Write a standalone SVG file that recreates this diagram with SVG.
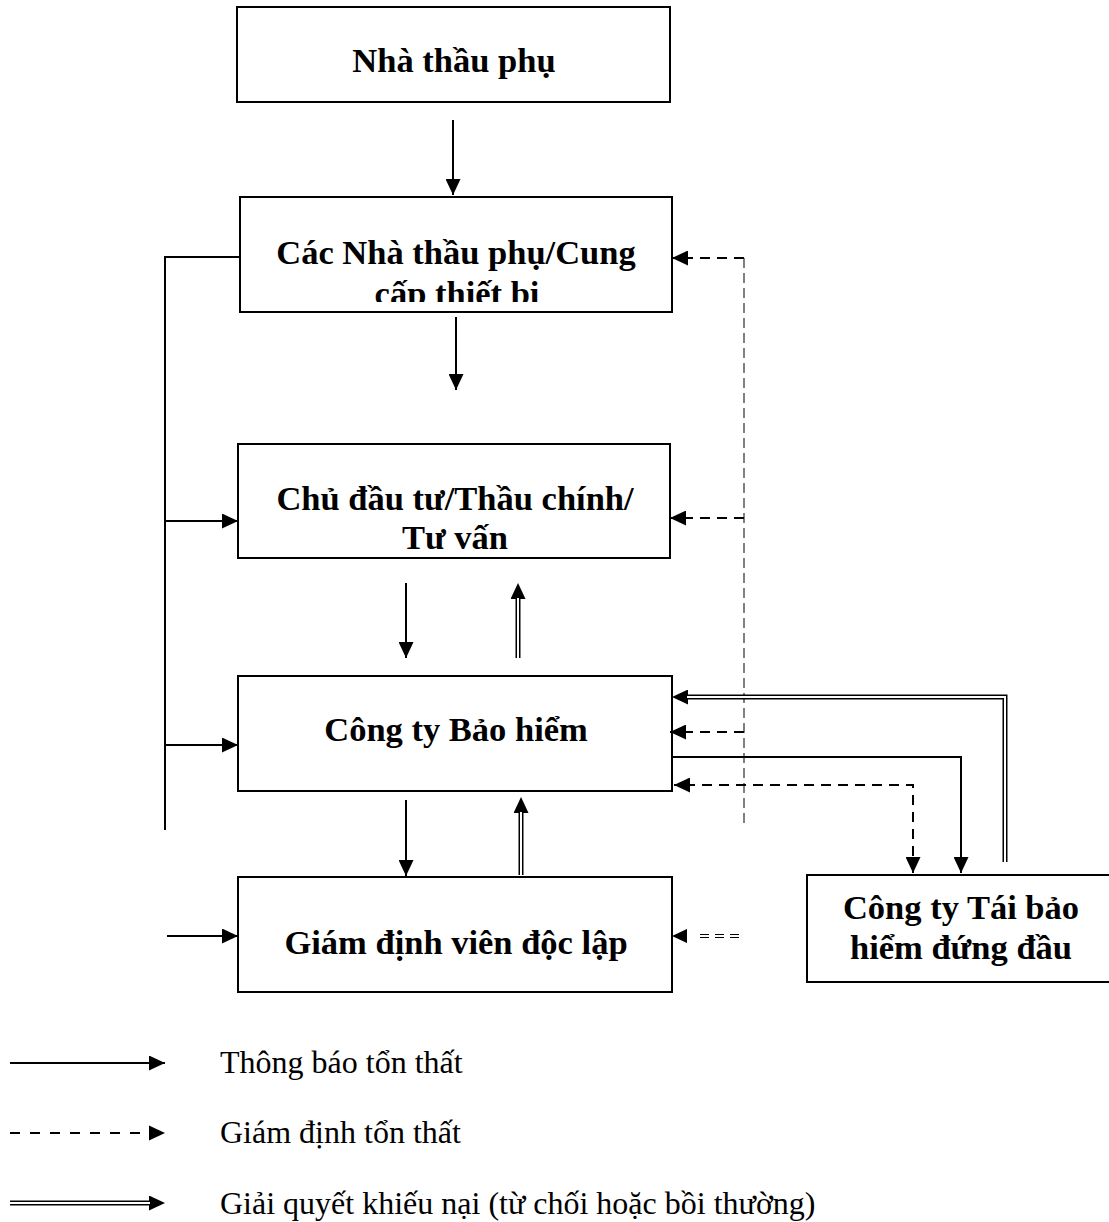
<svg xmlns="http://www.w3.org/2000/svg" width="1109" height="1222" viewBox="0 0 1109 1222">
<style>
.box{fill:#fff;stroke:#000;stroke-width:2}
.t{font-family:"Liberation Serif","Times New Roman",serif;font-weight:bold;font-size:34.5px;text-anchor:middle;fill:#000}
.lg{font-family:"Liberation Serif","Times New Roman",serif;font-size:32px;fill:#000}
.ln{fill:none;stroke:#000;stroke-width:2}
.da{fill:none;stroke:#000;stroke-width:2;stroke-dasharray:10 7}
.gr{fill:none;stroke:#808080;stroke-width:2;stroke-dasharray:10 5}
.dbo{fill:none;stroke:#000;stroke-width:5}
.dbi{fill:none;stroke:#fff;stroke-width:2}
</style>
<defs>
<marker id="ah" markerUnits="userSpaceOnUse" markerWidth="16" markerHeight="15" refX="16" refY="7.5" orient="auto-start-reverse"><path d="M0,0 L16,7.5 L0,15 z" fill="#000"/></marker>
<marker id="ahb" markerUnits="userSpaceOnUse" markerWidth="16" markerHeight="15" refX="0" refY="7.5" orient="auto"><path d="M0,0 L16,7.5 L0,15 z" fill="#000"/></marker>
<clipPath id="c2"><rect x="240" y="197" width="432" height="105"/></clipPath>
</defs>

<g id="n1">
<rect class="box" x="237" y="7" width="433" height="95"/>
<text class="t" x="454" y="72">Nhà thầu phụ</text>
</g>
<g id="n2">
<rect class="box" x="240" y="197" width="432" height="115"/>
<g clip-path="url(#c2)">
<text class="t" x="456" y="264">Các Nhà thầu phụ/Cung</text>
<text class="t" x="457" y="305">cấp thiết bi</text>
</g>
</g>
<g id="n3">
<rect class="box" x="238" y="444" width="432" height="114"/>
<text class="t" x="455" y="510">Chủ đầu tư/Thầu chính/</text>
<text class="t" x="455" y="549">Tư vấn</text>
</g>
<g id="n4">
<rect class="box" x="238" y="676" width="434" height="115"/>
<text class="t" x="456" y="741">Công ty Bảo hiểm</text>
</g>
<g id="n5">
<rect class="box" x="238" y="877" width="434" height="115"/>
<text class="t" x="456" y="954">Giám định viên độc lập</text>
</g>
<g id="n6">
<rect class="box" x="807" y="875" width="310" height="107"/>
<text class="t" x="961" y="919">Công ty Tái bảo</text>
<text class="t" x="961" y="959">hiểm đứng đầu</text>
</g>

<g id="connectors">
<path class="gr" d="M744,258 V828"/>
<path class="ln" d="M453,120 V195" marker-end="url(#ah)"/>
<path class="ln" d="M456,317 V390" marker-end="url(#ah)"/>
<path class="ln" d="M240,257 H165 V830"/>
<path class="ln" d="M165,521 H238" marker-end="url(#ah)"/>
<path class="ln" d="M165,745 H238" marker-end="url(#ah)"/>
<path class="ln" d="M167,936 H238" marker-end="url(#ah)"/>
<path class="ln" d="M406,583 V658" marker-end="url(#ah)"/>
<path class="ln" d="M406,800 V876" marker-end="url(#ah)"/>
<path class="ln" d="M672,757 H961 V873" marker-end="url(#ah)"/>

<path class="dbo" d="M518,658 V599" marker-end="url(#ahb)"/>
<path class="dbi" d="M518,659 V598"/>
<path class="dbo" d="M521,875 V813" marker-end="url(#ahb)"/>
<path class="dbi" d="M521,876 V812"/>
<path class="dbo" d="M1005,862 V697 H688" marker-end="url(#ahb)"/>
<path class="dbi" d="M1005,863 V697 H687"/>

<path class="da" d="M744,258 H672" marker-end="url(#ah)"/>
<path class="da" d="M744,518 H670" marker-end="url(#ah)"/>
<path class="da" d="M744,732 H670" marker-end="url(#ah)"/>
<path class="da" d="M913,873 V785 H674" marker-start="url(#ah)" marker-end="url(#ah)"/>
<path fill="none" stroke="#000" stroke-width="1" stroke-dasharray="9 6" d="M700,934.5 H745 M700,937.5 H745"/>
<path d="M672,936 L687,929 L687,943 z" fill="#000"/>

<path class="ln" d="M10,1063 H165" marker-end="url(#ah)"/>
<path fill="none" stroke="#000" stroke-width="2" stroke-dasharray="10 10" d="M10,1133 H150"/>
<path d="M165,1133 L149,1125.5 L149,1140.5 z" fill="#000"/>
<path class="dbo" d="M10,1203 H149" marker-end="url(#ahb)"/>
<path class="dbi" d="M9,1203 H150"/>
</g>

<text class="lg" x="220" y="1073">Thông báo tổn thất</text>
<text class="lg" x="220" y="1143">Giám định tổn thất</text>
<text class="lg" x="220" y="1214">Giải quyết khiếu nại (từ chối hoặc bồi thường)</text>
</svg>
